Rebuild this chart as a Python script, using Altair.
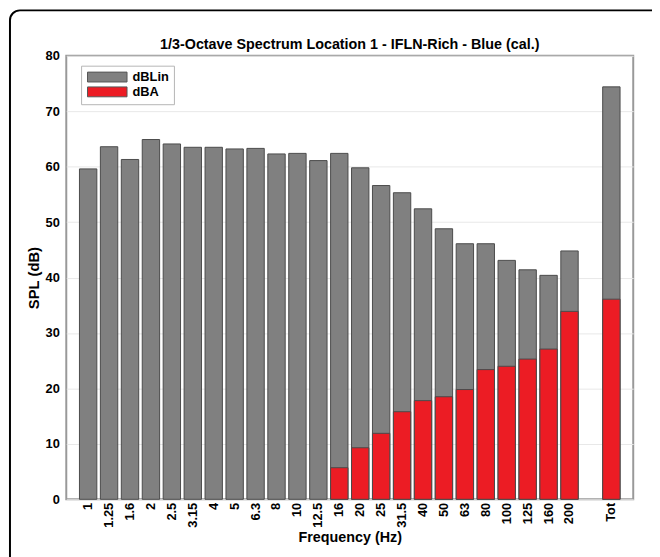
import altair as alt
import pandas as pd

# Data
freqs = ["1", "1.25", "1.6", "2", "2.5", "3.15", "4", "5", "6.3", "8", "10", "12.5",
         "16", "20", "25", "31.5", "40", "50", "63", "80", "100", "125", "160", "200", " ", "Tot"]
dblin = [59.6, 63.6, 61.3, 64.9, 64.1, 63.5, 63.5, 63.2, 63.3, 62.3, 62.4, 61.1,
         62.4, 59.8, 56.6, 55.3, 52.4, 48.8, 46.1, 46.1, 43.1, 41.4, 40.4, 44.8, None, 74.4]
dba = [None, None, None, None, None, None, None, None, None, None, None, None,
       5.7, 9.3, 11.9, 15.8, 17.8, 18.5, 19.8, 23.4, 24.0, 25.3, 27.1, 33.9, None, 36.1]
series_names = ["dBLin", "dBA"]
series_colors = ["#808080", "#ec1c24"]
title_text = "1/3-Octave Spectrum Location 1 - IFLN-Rich - Blue (cal.)"

rows = []
for name, vals in zip(series_names, [dblin, dba]):
    for f, v in zip(freqs, vals):
        if v is not None:
            rows.append({"freq": f, "series": name, "spl": v})
df = pd.DataFrame(rows)

FONT = "Liberation Sans"
W, H = 574, 449

bars = alt.Chart(df).mark_bar(stroke="#4a4a4a", strokeWidth=1).encode(
    x=alt.X("freq:N", sort=freqs,
            scale=alt.Scale(domain=freqs, paddingInner=0.17, paddingOuter=0.63),
            axis=alt.Axis(title="Frequency (Hz)", labelAngle=-90, labelFontSize=13,
                          labelPadding=3, titleFontSize=14.5, titlePadding=3, grid=False)),
    y=alt.Y("spl:Q", stack=None, scale=alt.Scale(domain=[0, 80], nice=False),
            axis=alt.Axis(title="SPL (dB)", values=list(range(0, 81, 10)), labelFontSize=13,
                          labelPadding=7, titleFontSize=15, titlePadding=4, grid=True)),
    color=alt.Color("series:N", scale=alt.Scale(domain=series_names, range=series_colors),
                    legend=alt.Legend(title=None, orient="none", legendX=15, legendY=10,
                                      labelFont=FONT, labelFontSize=13, labelFontWeight="bold",
                                      labelColor="black", labelOffset=19, symbolOffset=15,
                                      symbolType="M-4,-1H4V1H-4Z", symbolSize=100,
                                      symbolStrokeColor="#555555", symbolStrokeWidth=1,
                                      padding=5, strokeColor="#b5b5b5", fillColor="white",
                                      rowPadding=0)),
)

one = pd.DataFrame({"k": [0]})

frame = alt.Chart(one).mark_rect(
    fillOpacity=0, stroke="black", strokeWidth=2, cornerRadius=10
).encode(x=alt.value(-57), x2=alt.value(800), y=alt.value(-46), y2=alt.value(800))

title = alt.Chart(one).mark_text(
    font=FONT, fontSize=14.5, fontWeight="bold", color="black",
    align="center", baseline="alphabetic"
).encode(x=alt.value(W / 2), y=alt.value(-7), text=alt.value(title_text))

chart = alt.layer(bars, frame, title).properties(
    width=W, height=H,
    autosize=alt.AutoSizeParams(type="none"),
    padding={"left": 59, "top": 45, "right": 19, "bottom": 55},
).configure_view(stroke="#999999", strokeWidth=2).configure_axis(
    labelFont=FONT, titleFont=FONT, labelFontWeight="bold", titleFontWeight="bold",
    labelColor="black", titleColor="black", ticks=False, domain=False,
    gridColor="#e8e8e8", gridWidth=1
)

chart.save("out.html", embed_options={"renderer": "svg", "actions": False})
